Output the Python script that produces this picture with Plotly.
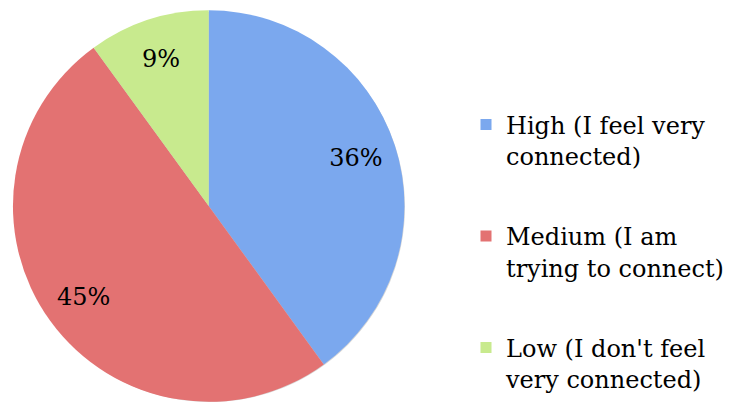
import plotly.graph_objects as go

categories = ["High (I feel very<br>connected)",
              "Medium (I am<br>trying to connect)",
              "Low (I don't feel<br>very connected)"]
counts = [4, 5, 1]
pct_labels = ["36%", "45%", "9%"]
colors = ["#7BA8EE", "#E37272", "#C8EA8E"]

FONT = "DejaVu Serif"
PIE_X = [0.0178, 0.5556]
PIE_Y = [0.0, 0.975]

fig = go.Figure()

# subtle shadow behind the pie
fig.add_trace(go.Pie(
    values=[1], labels=["shadow"], showlegend=False, sort=False,
    marker=dict(colors=["rgba(0,0,0,0.16)"], line=dict(width=0)),
    textinfo="none", hoverinfo="skip",
    domain=dict(x=[0.0196, 0.5572], y=[0.0, 0.970]),
))

# slices
fig.add_trace(go.Pie(
    values=counts, labels=categories,
    textinfo="none", sort=False, direction="clockwise", rotation=0,
    marker=dict(colors=colors, line=dict(width=0)),
    showlegend=False, hoverinfo="label+percent",
    domain=dict(x=PIE_X, y=PIE_Y),
))

# transparent ring carrying the percentage labels toward the rim
fig.add_trace(go.Pie(
    values=counts, labels=categories, text=pct_labels, hole=0.58,
    textinfo="text", textposition="inside", insidetextorientation="horizontal",
    sort=False, direction="clockwise", rotation=0,
    marker=dict(colors=["rgba(0,0,0,0)"] * 3, line=dict(width=0)),
    textfont=dict(family=FONT, size=24, color="black"),
    showlegend=False, hoverinfo="skip",
    domain=dict(x=PIE_X, y=PIE_Y),
))

for i, (cat, col) in enumerate(zip(categories, colors)):
    fig.add_trace(go.Scatter(
        x=[None], y=[None], mode="markers", name=cat,
        marker=dict(symbol="square", size=11, color=col),
        legendgroup=f"g{i}", showlegend=True,
    ))

fig.update_layout(
    width=729, height=402,
    margin=dict(l=0, r=0, t=0, b=0),
    paper_bgcolor="white", plot_bgcolor="white",
    xaxis=dict(visible=False), yaxis=dict(visible=False),
    uniformtext=dict(minsize=24, mode="show"),
    legend=dict(x=0.64, y=0.745, xanchor="left", yanchor="top",
                valign="top", tracegroupgap=46,
                font=dict(family=FONT, size=24, color="black"),
                bgcolor="rgba(0,0,0,0)"),
)

fig.write_html("out.html")
